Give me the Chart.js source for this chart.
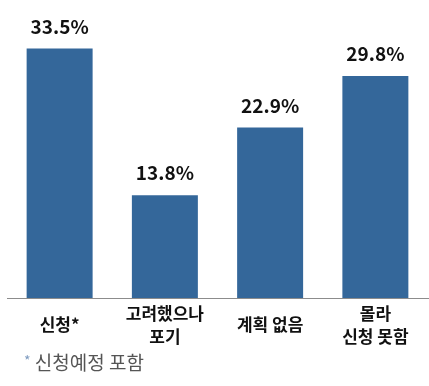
<!DOCTYPE html>
<html><head><meta charset="utf-8">
<script src="https://cdn.jsdelivr.net/npm/chart.js@4/dist/chart.umd.min.js"></script>
<style>
html,body{margin:0;padding:0;background:#fff;}
#wrap{position:relative;width:429px;height:386px;}
#note{position:absolute;left:24px;top:348px;font-family:"Noto Sans CJK KR";font-size:19px;color:#555;white-space:nowrap;}
#note span{color:#7f9cc0;font-size:14px;vertical-align:4px;}
</style></head>
<body>
<div id="wrap"><canvas id="c" width="429" height="386"></canvas>
<div id="note"><span>*</span> 신청예정 포함</div></div>
<script>
const categories = [["신청*"], ["고려했으나", "포기"], ["계획 없음"], ["몰라", "신청 못함"]];
const values = [33.5, 13.8, 22.9, 29.8];
const valueLabels = ["33.5%", "13.8%", "22.9%", "29.8%"];

const labelPlugin = {
  id: 'vals',
  afterDatasetsDraw(chart) {
    const ctx = chart.ctx;
    const meta = chart.getDatasetMeta(0);
    const xs = chart.scales.x;
    ctx.save();
    ctx.font = '600 19px "Noto Sans CJK KR"';
    ctx.fillStyle = '#111';
    ctx.textAlign = 'center';
    ctx.textBaseline = 'middle';
    meta.data.forEach((bar, i) => {
      ctx.fillText(valueLabels[i], bar.x, bar.y - 22);
    });
    // category labels, vertically centered
    ctx.font = 'bold 17px "Noto Sans CJK KR"';
    const lh = 23, mid = chart.chartArea.bottom + 27;
    categories.forEach((lines, i) => {
      const x = xs.getPixelForValue(i);
      const y0 = mid - (lines.length - 1) * lh / 2;
      lines.forEach((t, j) => ctx.fillText(t, x, y0 + j * lh));
    });
    ctx.restore();
  }
};

new Chart(document.getElementById('c'), {
  type: 'bar',
  data: {
    labels: categories,
    datasets: [{ data: values, backgroundColor: '#34679a', categoryPercentage: 1, barPercentage: 0.627 }]
  },
  options: {
    responsive: false,
    animation: false,
    layout: { padding: { left: 7, right: 1, top: 0, bottom: 0 } },
    plugins: { legend: { display: false }, tooltip: { enabled: false } },
    scales: {
      y: { display: false, min: 0, max: 40 },
      x: {
        grid: { display: false, drawTicks: false },
        border: { display: true, color: '#8c8c8c', width: 1 },
        ticks: { display: false },
        afterFit(scale) { scale.height = 88; }
      }
    }
  },
  plugins: [labelPlugin]
});
</script>
</body></html>
